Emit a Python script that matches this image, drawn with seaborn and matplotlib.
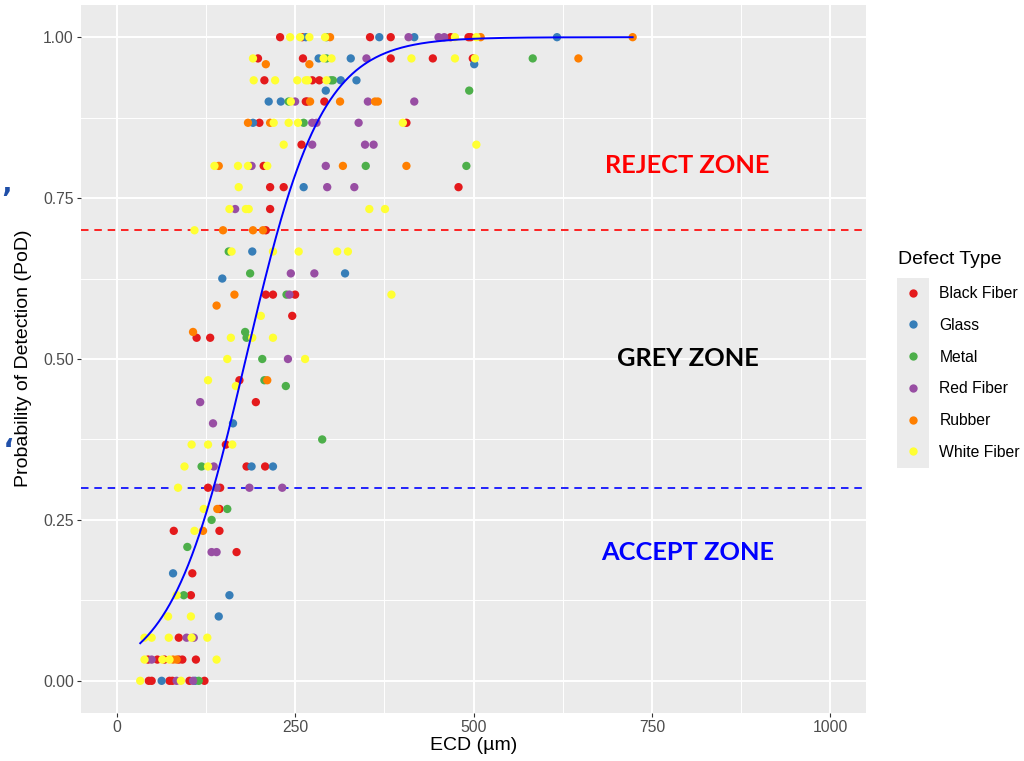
import numpy as np
import pandas as pd
import matplotlib
matplotlib.use("Agg")
import matplotlib.pyplot as plt
from matplotlib.patches import Rectangle
import seaborn as sns

# ---------------- data (PoD row -> ECD values in µm) ----------------
BLACK_FIBER = {
    1.000: [229, 260, 355, 384, 468, 493, 496],
    0.967: [198, 261, 384, 443, 499],
    0.933: [207, 274, 284],
    0.900: [265, 267, 291],
    0.867: [200, 406],
    0.833: [259],
    0.800: [206],
    0.767: [215, 234, 479],
    0.733: [215],
    0.700: [209],
    0.600: [209, 219, 250],
    0.567: [246],
    0.533: [112, 131],
    0.467: [172],
    0.433: [195],
    0.367: [153],
    0.333: [182, 208],
    0.300: [128, 145],
    0.267: [144],
    0.233: [80, 144],
    0.200: [168],
    0.167: [106],
    0.133: [104],
    0.067: [87],
    0.033: [44, 57, 67, 87, 92, 111],
    0.000: [45, 49, 74, 78, 102, 123],
}
GLASS = {
    1.000: [265, 368, 417, 617],
    0.967: [283, 328],
    0.958: [501],
    0.933: [314, 336],
    0.917: [293],
    0.900: [213, 230],
    0.867: [191],
    0.767: [262],
    0.667: [190],
    0.633: [320],
    0.625: [148],
    0.400: [163],
    0.333: [189, 219],
    0.167: [79],
    0.133: [158],
    0.100: [143],
    0.000: [63, 110],
}
METAL = {
    1.000: [294],
    0.967: [294, 583],
    0.933: [300, 303],
    0.917: [494],
    0.900: [241],
    0.867: [262],
    0.800: [349, 490],
    0.667: [157],
    0.633: [187],
    0.600: [238],
    0.542: [180],
    0.533: [182],
    0.500: [204],
    0.467: [207],
    0.458: [237],
    0.375: [288],
    0.333: [119],
    0.267: [155],
    0.250: [133],
    0.208: [99],
    0.133: [94],
    0.000: [115],
}
RED_FIBER = {
    1.000: [409, 451, 459],
    0.967: [350],
    0.900: [250, 352, 417],
    0.867: [274, 280, 339],
    0.833: [274, 348, 360],
    0.800: [189, 293],
    0.767: [295, 333],
    0.733: [166],
    0.633: [244, 277],
    0.600: [242],
    0.500: [240],
    0.433: [117],
    0.400: [135],
    0.333: [136],
    0.300: [140, 186, 232],
    0.200: [133, 140],
    0.067: [98, 108],
    0.033: [49],
    0.000: [84, 107],
}
RUBBER = {
    1.000: [299, 510, 723],
    0.967: [647],
    0.958: [209, 270],
    0.900: [271, 313, 362, 366],
    0.867: [184, 215],
    0.800: [143, 317, 406],
    0.700: [149, 191, 205],
    0.600: [165],
    0.583: [140],
    0.542: [107],
    0.467: [211],
    0.267: [141],
    0.233: [121],
    0.033: [79, 84],
}
WHITE_FIBER = {
    1.000: [243, 257, 270, 292, 474, 504],
    0.967: [191, 290, 301, 413, 474, 502],
    0.933: [192, 222, 253, 265, 268, 294],
    0.900: [244],
    0.867: [220, 241, 254, 401],
    0.833: [234, 504],
    0.800: [137, 170, 184, 211],
    0.767: [171],
    0.733: [158, 181, 185, 354, 376],
    0.700: [109],
    0.667: [161, 219, 255, 309, 324],
    0.600: [385],
    0.567: [202],
    0.533: [160, 190, 219],
    0.500: [155, 264],
    0.467: [128],
    0.458: [167],
    0.367: [105, 128, 162],
    0.333: [95, 128],
    0.300: [86],
    0.267: [122],
    0.233: [109],
    0.133: [84],
    0.100: [72, 104],
    0.067: [39, 49, 73, 105, 127],
    0.033: [39, 64, 74, 140],
    0.000: [33, 90],
}

DEFECT_TYPES = ["Black Fiber", "Glass", "Metal", "Red Fiber", "Rubber", "White Fiber"]
DEFECT_DATA = [BLACK_FIBER, GLASS, METAL, RED_FIBER, RUBBER, WHITE_FIBER]
COLORS = ["#E41A1C", "#377EB8", "#4DAF4A", "#984EA3", "#FF7F00", "#FFFF33"]

# fitted logistic model of PoD vs ECD
B0 = -3.40
B1 = 0.0188

REJECT_LIMIT = 0.7
ACCEPT_LIMIT = 0.3
X_TICKS = [0, 250, 500, 750, 1000]
Y_TICKS = [0.00, 0.25, 0.50, 0.75, 1.00]

# ---------------- build frame ----------------
rows = []
for name, d in zip(DEFECT_TYPES, DEFECT_DATA):
    for pod, ecds in d.items():
        for e in ecds:
            rows.append({"ECD": e, "PoD": pod, "Defect Type": name})
df = pd.DataFrame(rows)

xs = np.linspace(df["ECD"].min(), df["ECD"].max(), 400)
curve = pd.DataFrame({"ECD": xs, "PoD": 1 / (1 + np.exp(-(B0 + B1 * xs)))})

# ---------------- figure ----------------
W, H = 1024, 761
fig = plt.figure(figsize=(W / 100, H / 100), dpi=100)
fig.patch.set_facecolor("white")
ax = fig.add_axes([81 / W, 1 - 713 / H, (866 - 81) / W, (713 - 5) / H])
ax.set_facecolor("#EBEBEB")

ax.set_xlim(-50, 1050)
ax.set_ylim(-0.05, 1.05)
ax.set_xticks(X_TICKS)
ax.set_yticks(Y_TICKS)
ax.set_xticklabels([str(t) for t in X_TICKS])
ax.set_yticklabels([f"{t:.2f}" for t in Y_TICKS])
ax.set_xticks([125, 375, 625, 875], minor=True)
ax.set_yticks([0.125, 0.375, 0.625, 0.875], minor=True)
ax.grid(which="major", color="white", linewidth=1.4)
ax.grid(which="minor", color="white", linewidth=0.7)
ax.set_axisbelow(True)
for s in ax.spines.values():
    s.set_visible(False)
ax.tick_params(which="major", length=3.2, width=0.8, color="#333333",
               labelcolor="#4D4D4D", labelsize=11.3, pad=2)
ax.tick_params(which="minor", length=0)
for lab in ax.get_xticklabels() + ax.get_yticklabels():
    lab.set_family(["Liberation Sans", "DejaVu Sans"])

sns.scatterplot(data=df, x="ECD", y="PoD", hue="Defect Type",
                hue_order=DEFECT_TYPES, palette=COLORS, s=36,
                edgecolor="none", linewidth=0, ax=ax, zorder=3)
sns.lineplot(data=curve, x="ECD", y="PoD", color="#0000FF", linewidth=1.4,
             ax=ax, zorder=4)

ax.axhline(REJECT_LIMIT, color="#FF0000", linewidth=1.2, dashes=(4.5, 3.5), zorder=2.5)
ax.axhline(ACCEPT_LIMIT, color="#0000FF", linewidth=1.2, dashes=(4.5, 3.5), zorder=2.5)

zone_font = ["Lato", "DejaVu Sans"]
ax.text(800, 0.80, "REJECT ZONE", color="#FF0000", fontsize=18.3, fontweight="bold",
        family=zone_font, ha="center", va="center")
ax.text(800, 0.50, "GREY ZONE", color="black", fontsize=18.3, fontweight="bold",
        family=zone_font, ha="center", va="center")
ax.text(800, 0.20, "ACCEPT ZONE", color="#0000FF", fontsize=18.3, fontweight="bold",
        family=zone_font, ha="center", va="center")

ax.set_xlabel("")
ax.set_ylabel("")
lab_font = ["Liberation Sans", "DejaVu Sans"]
fig.text(473.5 / W, 1 - 746 / H, "ECD (µm)", ha="center", va="center",
         fontsize=14, family=lab_font, color="black")
fig.text(24 / W, 1 - 358 / H, "Probability of Detection (PoD)", ha="center",
         va="center", rotation=90, fontsize=14, family=lab_font, color="black")

# legend
handles, labels = ax.get_legend_handles_labels()
if ax.get_legend() is not None:
    ax.get_legend().remove()
fig.patches.append(Rectangle((897 / W, 1 - 468 / H), 32 / W, 190 / H,
                             transform=fig.transFigure, facecolor="#EBEBEB",
                             edgecolor="none", zorder=0))
leg = fig.legend(handles, labels, loc="upper left",
                 bbox_to_anchor=(897 / W, 1 - 286 / H), frameon=False,
                 borderpad=0, borderaxespad=0, handlelength=2.0,
                 handletextpad=0.7, labelspacing=1.07,
                 prop={"family": lab_font, "size": 11.3})
fig.text(898 / W, 1 - 259 / H, "Defect Type", ha="left", va="center",
         fontsize=14, family=lab_font, color="black")

# partly visible blue marks at the left edge of the reference
fig.text(1 / W, 1 - 200 / H, "’", color="#1F4EA8", fontsize=20,
         fontweight="bold", ha="left", va="center")
fig.text(1 / W, 1 - 432 / H, "’", color="#1F4EA8", fontsize=20,
         fontweight="bold", ha="left", va="center", rotation=180)

fig.savefig("out.png", dpi=100)
